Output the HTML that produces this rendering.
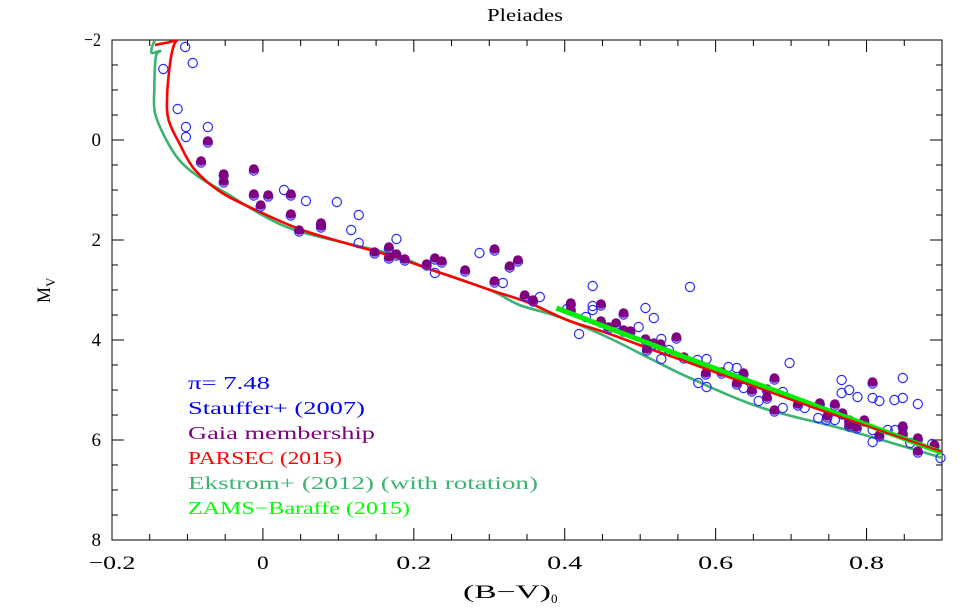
<!DOCTYPE html>
<html><head><meta charset="utf-8">
<style>
body{margin:0;background:#fff;}
svg{display:block;font-family:"Liberation Serif",serif;}
</style></head>
<body>
<svg id="chart" width="962" height="616" viewBox="0 0 962 616" xmlns="http://www.w3.org/2000/svg">
<rect width="962" height="616" fill="#fff"/>
<text x="487" y="21" textLength="76" lengthAdjust="spacingAndGlyphs" font-size="18">Pleiades</text>
<g id="axes"></g>
<g id="curves"></g>
<g id="points"></g>
<g font-size="18" lengthAdjust="spacingAndGlyphs">
<text x="188" y="389" textLength="82" lengthAdjust="spacingAndGlyphs" fill="#0000ff">π= 7.48</text>
<text x="188" y="414" textLength="177" lengthAdjust="spacingAndGlyphs" fill="#0000ff">Stauffer+ (2007)</text>
<text x="188" y="439" textLength="187" lengthAdjust="spacingAndGlyphs" fill="#800080">Gaia membership</text>
<text x="188" y="464" textLength="154" lengthAdjust="spacingAndGlyphs" fill="#ff0000">PARSEC (2015)</text>
<text x="188" y="489" textLength="350" lengthAdjust="spacingAndGlyphs" fill="#3cb371">Ekstrom+ (2012) (with rotation)</text>
<text x="188" y="514" textLength="222" lengthAdjust="spacingAndGlyphs" fill="#00ff00">ZAMS−Baraffe (2015)</text>
</g>
<text x="463" y="598" font-size="19"><tspan textLength="88" lengthAdjust="spacingAndGlyphs">(B−V)</tspan><tspan font-size="13" dy="5">0</tspan></text>
<text transform="translate(50,303) rotate(-90)" font-size="19"><tspan textLength="16" lengthAdjust="spacingAndGlyphs">M</tspan><tspan font-size="13" dy="5">V</tspan></text>
</svg>
<script>
const xTicks=[-0.2,0,0.2,0.4,0.6,0.8];
const yTicks=[-2,0,2,4,6,8];
const staufferBV=[-0.103,-0.093,-0.132,-0.113,-0.102,-0.073,-0.102,0.028,0.057,0.098,0.127,0.117,0.127,0.177,0.287,0.318,0.367,0.437,0.437,0.437,0.428,0.419,0.507,0.518,0.498,0.528,0.538,0.528,0.566,0.576,0.588,0.577,0.588,0.617,0.628,0.637,0.657,0.689,0.689,0.698,0.718,0.736,0.747,0.758,0.767,0.767,0.777,0.788,0.808,0.817,0.837,0.848,0.848,0.868,0.808,0.808,0.828,0.838,0.858,0.887,0.898,0.403,0.228];
const staufferMV=[-1.86,-1.54,-1.42,-0.62,-0.26,-0.26,-0.06,1.00,1.22,1.24,1.50,1.80,2.06,1.98,2.26,2.86,3.14,2.92,3.32,3.40,3.54,3.88,3.36,3.56,3.74,3.98,4.20,4.38,2.94,4.40,4.38,4.86,4.94,4.54,4.56,4.96,5.22,5.04,5.36,4.46,5.36,5.56,5.60,5.60,4.80,5.06,5.00,5.14,5.16,5.22,5.20,5.16,4.76,5.28,5.80,6.04,5.80,5.80,6.06,6.08,6.36,3.38,2.66];
const gaiaBV=[-0.073,-0.082,-0.052,-0.052,-0.012,-0.012,0.007,-0.003,0.037,0.037,0.048,0.077,0.077,0.148,0.167,0.177,0.188,0.167,0.217,0.228,0.237,0.268,0.307,0.307,0.327,0.338,0.347,0.358,0.408,0.408,0.448,0.448,0.478,0.468,0.458,0.487,0.478,0.507,0.518,0.527,0.548,0.509,0.558,0.587,0.608,0.637,0.678,0.678,0.628,0.648,0.668,0.668,0.709,0.738,0.758,0.768,0.777,0.797,0.777,0.787,0.808,0.817,0.848,0.848,0.868,0.868,0.748,0.890];
const gaiaMV=[0.02,0.42,0.68,0.82,0.58,1.08,1.10,1.30,1.08,1.48,1.80,1.66,1.72,2.24,2.14,2.28,2.38,2.34,2.48,2.36,2.42,2.60,2.18,2.82,2.52,2.40,3.10,3.20,3.26,3.38,3.28,3.62,3.46,3.66,3.74,3.82,3.80,3.98,4.06,4.08,3.94,4.18,4.34,4.66,4.64,4.66,4.76,5.40,4.86,5.00,4.98,5.14,5.28,5.26,5.28,5.46,5.60,5.60,5.70,5.74,4.84,5.90,5.72,5.86,5.96,6.22,5.52,6.10];
const parsecBV=[-0.143,-0.123,-0.114,-0.118,-0.123,-0.127,-0.125,-0.111,-0.090,-0.054,-0.001,0.052,0.109,0.175,0.224,0.252,0.301,0.350,0.403,0.456,0.517,0.566,0.728,0.901];
const parsecMV=[-1.90,-1.96,-2.0,-1.9,-1.54,-0.86,-0.40,0.06,0.60,1.06,1.46,1.80,2.06,2.34,2.60,2.74,3.00,3.24,3.60,3.86,4.20,4.46,5.34,6.24];
const ekstromBV=[-0.143,-0.147,-0.147,-0.136,-0.142,-0.144,-0.143,-0.130,-0.111,-0.085,-0.049,-0.001,0.042,0.109,0.175,0.224,0.301,0.340,0.393,0.456,0.517,0.566,0.658,0.774,0.901];
const ekstromMV=[-2.0,-1.86,-1.74,-1.78,-1.66,-1.0,-0.54,-0.06,0.40,0.74,1.06,1.50,1.80,2.06,2.30,2.60,3.00,3.30,3.54,3.94,4.40,4.76,5.34,5.80,6.36];
const zamsBV=[0.389,0.562,0.901];
const zamsMV=[3.36,4.36,6.26];

const X0=112,X1=942,Y0=40,Y1=540,xmin=-0.2,xmax=0.9,ymin=-2,ymax=8;
const xs=v=>X0+(v-xmin)/(xmax-xmin)*(X1-X0);
const ys=v=>Y0+(v-ymin)/(ymax-ymin)*(Y1-Y0);
const NS='http://www.w3.org/2000/svg';
function mk(tag,attrs,parent){const e=document.createElementNS(NS,tag);for(const k in attrs)e.setAttribute(k,attrs[k]);parent.appendChild(e);return e;}
const axes=document.getElementById('axes');
const frame=mk('rect',{x:X0,y:Y0,width:X1-X0,height:Y1-Y0,fill:'none',stroke:'#000','stroke-width':1},axes);


let d='';
for(let i=0;i<=22;i++){const v=xmin+i*0.05;const px=xs(v);const L=(i%4===0)?12:6;d+=`M${px},${Y1}v${-L}M${px},${Y0}v${L}`;}
for(let i=0;i<=20;i++){const v=ymin+i*0.5;const py=ys(v);const L=(i%4===0)?12:6;d+=`M${X0},${py}h${L}M${X1},${py}h${-L}`;}
const ticks=mk('path',{d:d,stroke:'#000','stroke-width':1,fill:'none'},axes);


xTicks.forEach(v=>{const s=(v<0?'−':'')+Math.abs(v).toString();const w=s.length*11.7;const t=mk('text',{x:xs(v)-w/2,y:569,'font-size':19,textLength:w,lengthAdjust:'spacingAndGlyphs'},axes);t.textContent=s;

});
yTicks.forEach(v=>{const s=(v<0?'−':'')+Math.abs(v);const w=s.length*8.5+(v<0?0:1);const t=mk('text',{x:101-w,y:ys(v)+6,'font-size':19,textLength:w,lengthAdjust:'spacingAndGlyphs'},axes);t.textContent=s;

});

const curves=document.getElementById('curves');
const clip=mk('clipPath',{id:'pc'},curves);mk('rect',{x:X0,y:Y0,width:X1-X0,height:Y1-Y0},clip);
function smooth(bv,mv){const P=bv.map((b,i)=>[xs(b),ys(mv[i])]);let s='M'+P[0][0].toFixed(1)+','+P[0][1].toFixed(1);
for(let i=0;i<P.length-1;i++){const p0=P[Math.max(0,i-1)],p1=P[i],p2=P[i+1],p3=P[Math.min(P.length-1,i+2)];
const c1=[p1[0]+(p2[0]-p0[0])/6,p1[1]+(p2[1]-p0[1])/6],c2=[p2[0]-(p3[0]-p1[0])/6,p2[1]-(p3[1]-p1[1])/6];
s+=`C${c1[0].toFixed(1)},${c1[1].toFixed(1)} ${c2[0].toFixed(1)},${c2[1].toFixed(1)} ${p2[0].toFixed(1)},${p2[1].toFixed(1)}`;}return s;}
function line(bv,mv,color,w,name,parent){const p=mk('path',{d:smooth(bv,mv),stroke:color,'stroke-width':w,fill:'none','stroke-linejoin':'round','clip-path':'url(#pc)'},parent);

}
line(ekstromBV,ekstromMV,'#3cb371',2.6,'ekstrom-isochrone',curves);
line(parsecBV,parsecMV,'#ff0000',2.6,'parsec-isochrone',curves);

const pts=document.getElementById('points');
staufferBV.forEach((b,i)=>{const c=mk('circle',{cx:xs(b),cy:ys(staufferMV[i]),r:4.6,fill:'none',stroke:'#2a2aff','stroke-width':1.2},pts);

});
gaiaBV.forEach((b,i)=>{const r=mk('circle',{cx:xs(b),cy:ys(gaiaMV[i])+1.5,r:4.6,fill:'none',stroke:'#2a2aff','stroke-width':1.2},pts);


const c=mk('circle',{cx:xs(b),cy:ys(gaiaMV[i]),r:4.8,fill:'#800080'},pts);

});
const z=mk('path',{d:zamsBV.map((b,i)=>(i?'L':'M')+xs(b).toFixed(1)+','+ys(zamsMV[i]).toFixed(1)).join(''),stroke:'#00ee00','stroke-width':5,fill:'none','clip-path':'url(#pc)'},pts);


line(parsecBV.slice(20),parsecMV.slice(20),'#ff0000',2,'parsec-isochrone-overlay',pts);
</script>
</body></html>
